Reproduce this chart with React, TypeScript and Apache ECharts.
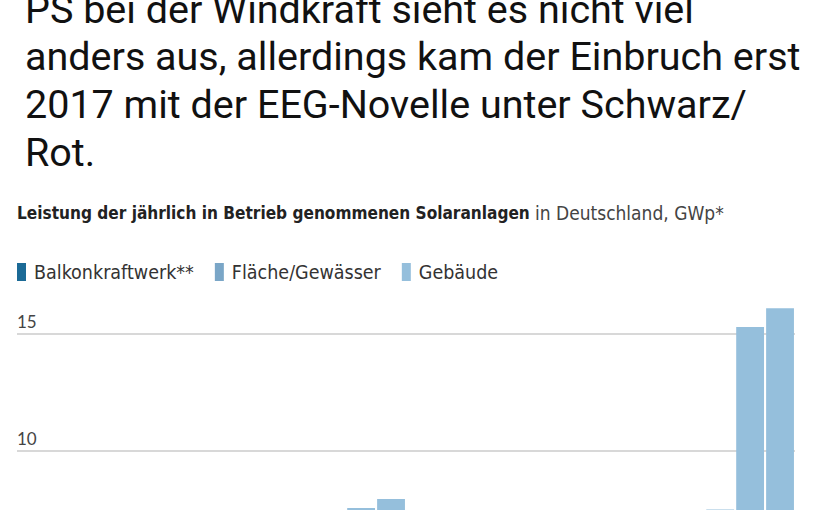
import React, { useEffect, useRef } from "react";
import * as echarts from "echarts";

// Tweet text above the chart
const tweetLines = [
  "PS bei der Windkraft sieht es nicht viel",
  "anders aus, allerdings kam der Einbruch erst",
  "2017 mit der EEG-Novelle unter Schwarz/",
  "Rot.",
];

const titleBold = "Leistung der jährlich in Betrieb genommenen Solaranlagen";
const titleRest = "in Deutschland, GWp*";

const years = [
  "1999", "2000", "2001", "2002", "2003", "2004", "2005", "2006", "2007",
  "2008", "2009", "2010", "2011", "2012", "2013", "2014", "2015", "2016",
  "2017", "2018", "2019", "2020", "2021", "2022", "2023", "2024",
];

// GWp per year, stacked bottom to top
const balkon = [
  0, 0, 0, 0, 0, 0, 0, 0, 0, 0, 0, 0, 0, 0, 0, 0, 0, 0, 0, 0.01, 0.02, 0.03,
  0.05, 0.1, 0.3, 0.45,
];
const flaeche = [
  0, 0, 0, 0.01, 0.02, 0.1, 0.15, 0.15, 0.3, 0.45, 1.1, 2.0, 2.9, 3.2, 0.9,
  0.4, 0.45, 0.5, 0.5, 0.9, 1.5, 1.7, 1.6, 2.3, 5.3, 6.5,
];
const gebaeude = [
  0.01, 0.04, 0.08, 0.08, 0.13, 0.5, 0.75, 0.7, 1.0, 1.55, 3.3, 5.56, 5.05,
  4.1, 2.4, 1.5, 0.95, 1.0, 1.2, 2.0, 2.5, 3.2, 3.7, 5.1, 9.7, 9.15,
];

const seriesNames = ["Balkonkraftwerk**", "Fläche/Gewässer", "Gebäude"];
const seriesColors = ["#1b6a96", "#7aa6c7", "#95bfdc"];

const condensed = "'DejaVu Sans Condensed'";

export default function App() {
  const chartRef = useRef<HTMLDivElement>(null);

  useEffect(() => {
    document.body.style.margin = "0";
    if (!chartRef.current) return;
    const chart = echarts.init(chartRef.current, undefined, { renderer: "svg" });

    const baselines = [23, 70.5, 118, 166.5];
    const tweet = tweetLines.map((line, i) => ({
      type: "text",
      x: 25,
      y: baselines[i] - 14,
      style: {
        text: line,
        font: "39.5px Roboto",
        fill: "#111",
        verticalAlign: "middle",
      },
    }));

    // chart heading: bold part + regular part
    const heading = [
      {
        type: "text",
        x: 17,
        y: 213,
        scaleX: 0.95,
        style: {
          text: titleBold,
          font: `bold 18px ${condensed}`,
          fill: "#222",
          verticalAlign: "middle",
        },
      },
      {
        type: "text",
        x: 535,
        y: 213,
        style: {
          text: titleRest,
          font: `19px ${condensed}`,
          fill: "#444",
          verticalAlign: "middle",
        },
      },
    ];

    chart.setOption({
      animation: false,
      backgroundColor: "#ffffff",
      graphic: [...tweet, ...heading],
      legend: {
        left: 17,
        top: 262,
        padding: 0,
        icon: "rect",
        itemWidth: 9,
        itemHeight: 18,
        itemGap: 21,
        textStyle: {
          fontFamily: condensed,
          fontSize: 19.5,
          color: "#333",
          padding: [0, 0, 0, 3],
        },
        data: seriesNames,
      },
      grid: { left: 17, right: 30, top: 334, bottom: 45 },
      xAxis: {
        type: "category",
        data: years,
        axisTick: { show: false },
        axisLine: { lineStyle: { color: "#333" } },
        axisLabel: { show: false },
      },
      yAxis: {
        type: "value",
        min: 0,
        max: 15,
        interval: 5,
        axisLine: { show: false },
        axisTick: { show: false },
        splitLine: { lineStyle: { color: "#cbcbcb", width: 1.5 } },
        axisLabel: {
          inside: true,
          align: "left",
          verticalAlign: "bottom",
          margin: 0,
          padding: [0, 0, 4, 0],
          fontFamily: "Lato",
          fontSize: 17,
          color: "#444",
        },
      },
      series: [balkon, flaeche, gebaeude].map((d, i) => ({
        type: "bar",
        name: seriesNames[i],
        stack: "total",
        data: d,
        clip: false,
        barCategoryGap: "7%",
        itemStyle: { color: seriesColors[i] },
      })),
    });

    return () => chart.dispose();
  }, []);

  return (
    <div style={{ width: 825, height: 510, overflow: "hidden" }}>
      <div ref={chartRef} style={{ width: 825, height: 730 }} />
    </div>
  );
}
